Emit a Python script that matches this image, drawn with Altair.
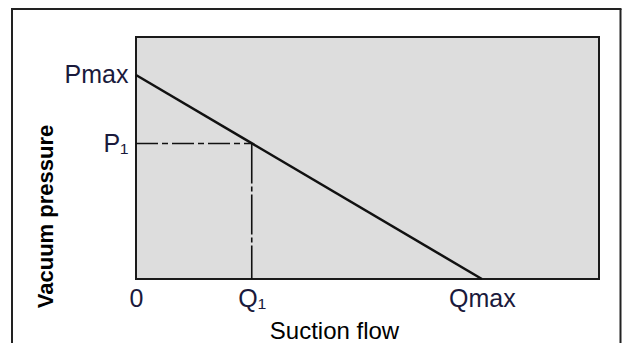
import altair as alt
import pandas as pd

# Values (arbitrary units on 0..10 axes)
q_line = [0.0, 7.47]          # suction flow: 0 -> Qmax
p_line = [8.43, 0.0]          # vacuum pressure: Pmax -> 0
q1 = 2.5
p1 = 5.6

x_tick_values = [0.0, 2.5, 7.47]
x_tick_labels = ["0", "Q\u2081", "Qmax"]
y_tick_values = [8.43, 5.6]
y_tick_labels = ["Pmax", "P\u2081"]

line_df = pd.DataFrame({"q": q_line, "p": p_line})
hdash_df = pd.DataFrame({"q": [0.0, q1], "p": [p1, p1]})
vdash_df = pd.DataFrame({"q": [q1, q1], "p": [p1, 0.0]})


def label_expr(vals, labs):
    expr = "''"
    for v, l in zip(vals, labs):
        expr = f"abs(datum.value - {v}) < 0.01 ? '{l}' : ({expr})"
    return expr


LBL = "#1a1a3c"
FONT = "Liberation Sans"

xs = alt.Scale(domain=[0, 10], nice=False, zero=False)
ys = alt.Scale(domain=[0, 10], nice=False, zero=False)

x_axis = alt.Axis(
    values=x_tick_values, labelExpr=label_expr(x_tick_values, x_tick_labels),
    title="Suction flow", domain=False, ticks=False, grid=False,
    labelFont=FONT, labelFontSize=25, labelColor=LBL, labelPadding=7,
    labelFlush=False, labelOverlap=False,
    titleFont=FONT, titleFontSize=24, titleFontWeight="normal", titleColor="#000",
    titleX=198, titleY=59, titleAlign="center", titleBaseline="alphabetic",
)
y_axis = alt.Axis(
    values=y_tick_values, labelExpr=label_expr(y_tick_values, y_tick_labels),
    title="Vacuum pressure", domain=False, ticks=False, grid=False,
    labelFont=FONT, labelFontSize=25, labelColor=LBL, labelPadding=8,
    labelFlush=False, labelOverlap=False, labelBaseline="middle",
    titleFont=FONT, titleFontSize=22, titleFontWeight="bold", titleColor="#000",
    titleX=-84, titleY=179, titleAlign="center", titleBaseline="alphabetic", titleAngle=270,
)

main = alt.Chart(line_df).mark_line(color="#111", strokeWidth=2.5).encode(
    x=alt.X("q:Q", scale=xs, axis=x_axis),
    y=alt.Y("p:Q", scale=ys, axis=y_axis),
)
hdash = alt.Chart(hdash_df).mark_line(color="#111", strokeWidth=1.6, strokeDash=[22, 4, 6, 4]).encode(
    x=alt.X("q:Q", scale=xs), y=alt.Y("p:Q", scale=ys)
)
vdash = alt.Chart(vdash_df).mark_line(color="#111", strokeWidth=1.6, strokeDash=[40, 3, 5, 3]).encode(
    x=alt.X("q:Q", scale=xs), y=alt.Y("p:Q", scale=ys)
)

# outer frame (decoration)
frame_df = pd.DataFrame({"k": [0]})
frame_left = alt.Chart(frame_df).mark_rule(color="#222", strokeWidth=2).encode(
    x=alt.value(-124), y=alt.value(-28), y2=alt.value(320))
frame_top = alt.Chart(frame_df).mark_rule(color="#222", strokeWidth=2).encode(
    x=alt.value(-125), x2=alt.value(485.5), y=alt.value(-28))
frame_right = alt.Chart(frame_df).mark_rule(color="#222", strokeWidth=2).encode(
    x=alt.value(484.5), y=alt.value(-28), y2=alt.value(320))

chart = alt.layer(main, hdash, vdash, frame_left, frame_top, frame_right).properties(
    width=463, height=242,
    padding={"left": 128, "top": 29, "right": 23, "bottom": 64},
    autosize=alt.AutoSizeParams(type="none"),
    background="white",
).configure_view(
    fill="#dddddd", stroke="#1a1a1a", strokeWidth=2
)

chart.save("out.html", embed_options={"renderer": "svg", "actions": False})
